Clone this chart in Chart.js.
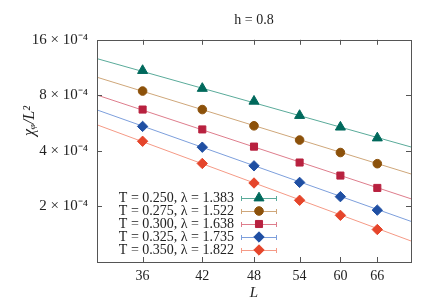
<!DOCTYPE html>
<html>
<head>
<meta charset="utf-8">
<script src="https://cdn.jsdelivr.net/npm/chart.js@4/dist/chart.umd.min.js"></script>
<style>
  body { margin: 0; background: #fff; }
</style>
</head>
<body>
<canvas id="myChart" width="436" height="305"></canvas>
<script>
// data

const sizes = [36, 42, 48, 54, 60, 66];
const seriesLabels = [
  'T = 0.250, λ = 1.383',
  'T = 0.275, λ = 1.522',
  'T = 0.300, λ = 1.638',
  'T = 0.325, λ = 1.735',
  'T = 0.350, λ = 1.822'
];
const chi250 = [10.9e-4, 8.72e-4, 7.43e-4, 6.22e-4, 5.38e-4, 4.70e-4];
const chi275 = [8.44e-4, 6.70e-4, 5.47e-4, 4.58e-4, 3.92e-4, 3.41e-4];
const chi300 = [6.70e-4, 5.23e-4, 4.22e-4, 3.46e-4, 2.94e-4, 2.52e-4];
const chi325 = [5.43e-4, 4.19e-4, 3.32e-4, 2.70e-4, 2.26e-4, 1.91e-4];
const chi350 = [4.51e-4, 3.42e-4, 2.68e-4, 2.16e-4, 1.79e-4, 1.50e-4];

// fit lines, value at L = 32 and L = 72
const fitL = [32, 72];
const fit250 = [12.65e-4, 4.20e-4];
const fit275 = [10.03e-4, 3.00e-4];
const fit300 = [8.03e-4, 2.20e-4];
const fit325 = [6.67e-4, 1.66e-4];
const fit350 = [5.54e-4, 1.30e-4];

const yTickValues = [2e-4, 4e-4, 8e-4, 16e-4];
const yTickLabels = ['2 × 10⁻⁴', '4 × 10⁻⁴', '8 × 10⁻⁴', '16 × 10⁻⁴'];

const allChi = [chi250, chi275, chi300, chi325, chi350];
const allFit = [fit250, fit275, fit300, fit325, fit350];

// styles
const markColors = ['#00695c', '#8c510a', '#b8213f', '#1f4fa3', '#e5452b'];
const lineColors = ['#5aab9a', '#cfa77a', '#de7d8c', '#7d9fdc', '#f59a86'];
const markStyles = ['triangle', 'circle', 'rect', 'rectRot', 'rectRot'];
const markRadius = [5.8, 4.3, 5, 5.2, 5.2];

const serif = 'Liberation Serif';

const datasets = [];
for (let i = 0; i < allChi.length; i++) {
  datasets.push({
    label: seriesLabels[i],
    data: sizes.map((L, j) => ({ x: L, y: allChi[i][j] })),
    showLine: false,
    pointStyle: markStyles[i],
    pointRadius: markRadius[i],
    backgroundColor: markColors[i],
    borderColor: markColors[i],
    borderWidth: 1,
    order: 0
  });
}
for (let i = 0; i < allFit.length; i++) {
  datasets.push({
    label: 'fit ' + seriesLabels[i],
    data: fitL.map((L, j) => ({ x: L, y: allFit[i][j] })),
    showLine: true,
    pointRadius: 0,
    borderColor: lineColors[i],
    borderWidth: 1,
    order: 1
  });
}

// frame, inward ticks, y title and the legend
const extras = {
  id: 'extras',
  afterDraw(chart) {
    const c = chart.ctx;
    const a = chart.chartArea;
    const xs = chart.scales.x;
    const ys = chart.scales.y;
    c.save();
    c.strokeStyle = '#555';
    c.lineWidth = 1;
    c.strokeRect(Math.round(a.left) + 0.5, Math.round(a.top) + 0.5,
      Math.round(a.right - a.left), Math.round(a.bottom - a.top));
    c.beginPath();
    for (const v of sizes) {
      const px = Math.round(xs.getPixelForValue(v)) + 0.5;
      c.moveTo(px, a.bottom); c.lineTo(px, a.bottom - 5);
      c.moveTo(px, a.top); c.lineTo(px, a.top + 5);
    }
    for (const v of yTickValues) {
      const py = Math.round(ys.getPixelForValue(v)) + 0.5;
      c.moveTo(a.left, py); c.lineTo(a.left + 5, py);
      c.moveTo(a.right, py); c.lineTo(a.right - 5, py);
    }
    c.stroke();

    // y axis title
    c.fillStyle = '#222';
    c.font = 'italic 16px "' + serif + '"';
    c.textAlign = 'center';
    c.textBaseline = 'middle';
    c.translate(30, 121);
    c.rotate(-Math.PI / 2);
    c.fillText('χᵩ/L²', 0, 0);
    c.restore();

    // legend
    c.save();
    c.font = '14px "' + serif + '"';
    c.textAlign = 'right';
    c.textBaseline = 'middle';
    for (let i = 0; i < seriesLabels.length; i++) {
      const y = 198 + 13 * i;
      c.fillStyle = '#222';
      c.fillText(seriesLabels[i], 234, y);
      c.strokeStyle = lineColors[i];
      c.lineWidth = 1;
      c.beginPath();
      c.moveTo(241, y + 0.5); c.lineTo(277, y + 0.5);
      c.moveTo(241.5, y - 2); c.lineTo(241.5, y + 3);
      c.moveTo(276.5, y - 2); c.lineTo(276.5, y + 3);
      c.stroke();
      c.fillStyle = markColors[i];
      c.strokeStyle = markColors[i];
      Chart.helpers.drawPoint(c, { pointStyle: markStyles[i], radius: markRadius[i], rotation: 0, borderWidth: 1 }, 259, y);
    }
    c.restore();
  }
};

const ctx = document.getElementById('myChart');
const myChart = new Chart(ctx, {
  type: 'scatter',
  data: { datasets: datasets },
  options: {
    responsive: false,
    animation: false,
    layout: { padding: { left: 0, right: 25, top: 0, bottom: 0 } },
    plugins: {
      legend: { display: false },
      tooltip: { enabled: false },
      title: {
        display: true,
        fullSize: false,
        text: 'h = 0.8',
        color: '#222',
        font: { family: serif, size: 14, weight: 'normal' },
        padding: { top: 12, bottom: 11 }
      }
    },
    scales: {
      x: {
        type: 'logarithmic',
        min: 32,
        max: 72,
        afterBuildTicks: (s) => { s.ticks = sizes.map(v => ({ value: v })); },
        afterFit: (s) => { s.height = 43; },
        grid: { display: false, drawTicks: false },
        border: { display: false },
        ticks: {
          padding: 6,
          color: '#222',
          font: { family: serif, size: 14 },
          maxRotation: 0,
          callback: (v) => String(v)
        },
        title: {
          display: true,
          text: 'L',
          color: '#222',
          font: { family: serif, size: 15, style: 'italic' },
          padding: { top: 0, bottom: 3 }
        }
      },
      y: {
        type: 'logarithmic',
        min: 1e-4,
        max: 16e-4,
        afterBuildTicks: (s) => { s.ticks = yTickValues.map(v => ({ value: v })); },
        afterFit: (s) => { s.width = 97; },
        grid: { display: false, drawTicks: false },
        border: { display: false },
        ticks: {
          padding: 9,
          color: '#222',
          font: { family: serif, size: 15 },
          callback: (v) => {
            for (let i = 0; i < yTickValues.length; i++) {
              if (Math.abs(v - yTickValues[i]) < 1e-9) return yTickLabels[i];
            }
            return '';
          }
        }
      }
    }
  },
  plugins: [extras]
});
</script>
</body>
</html>
